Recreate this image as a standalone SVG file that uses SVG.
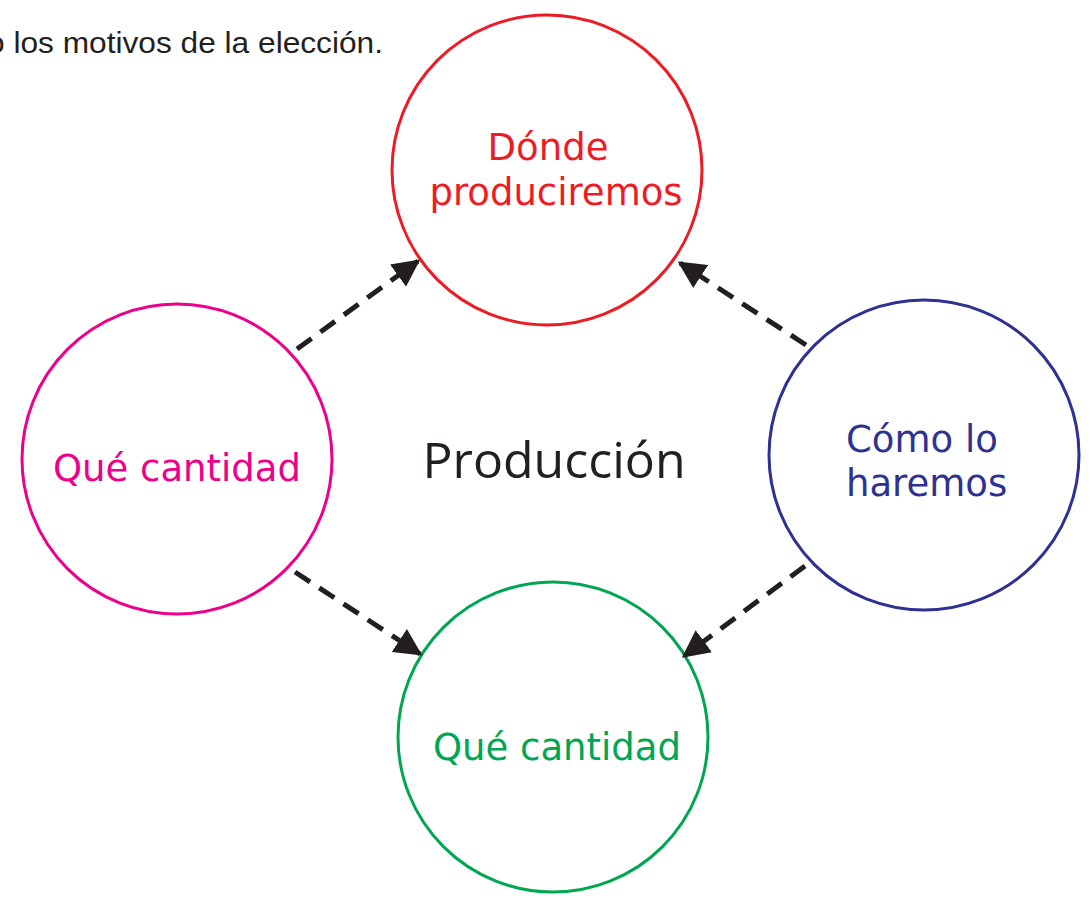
<svg xmlns="http://www.w3.org/2000/svg" width="1090" height="898" viewBox="0 0 1090 898">
<defs>
<marker id="ah" viewBox="0 0 10 10" refX="9" refY="5" markerWidth="5.5" markerHeight="5.5" orient="auto" markerUnits="strokeWidth">
<path d="M0,0 L10,5 L0,10 z" fill="#231f20"/>
</marker>
</defs>
<style>
.c{fill:none;stroke-width:3}
.lbl{font-family:"DejaVu Sans",Verdana,sans-serif;font-size:37px}
.con{stroke:#231f20;stroke-width:5;stroke-dasharray:18 11;fill:none}
</style>
<rect width="1090" height="898" fill="#fff"/>
<text x="-13" y="53" font-family="Liberation Sans, Arial, sans-serif" font-size="30" textLength="396" lengthAdjust="spacingAndGlyphs" fill="#231f20">o los motivos de la elección.</text>
<g id="center"><text x="554" y="478" text-anchor="middle" font-family="Open Sans, sans-serif" font-size="50" fill="#231f20">Producción</text></g>
<g id="donde">
<circle class="c" cx="547" cy="170" r="155" stroke="#ed1c24"/>
<text class="lbl" x="548" y="160" text-anchor="middle" fill="#ed1c24">Dónde</text>
<text class="lbl" x="556" y="205" text-anchor="middle" fill="#ed1c24">produciremos</text>
</g>
<g id="como">
<circle class="c" cx="924" cy="455" r="155" stroke="#2e3192"/>
<text class="lbl" x="846" y="452" fill="#2e3192">Cómo lo</text>
<text class="lbl" x="846" y="496" fill="#2e3192">haremos</text>
</g>
<g id="cantidad1">
<circle class="c" cx="177" cy="459" r="155" stroke="#ec008c"/>
<text class="lbl" x="177" y="481" text-anchor="middle" fill="#ec008c">Qué cantidad</text>
</g>
<g id="cantidad2">
<circle class="c" cx="553" cy="737" r="155" stroke="#00a651"/>
<text class="lbl" x="557" y="760" text-anchor="middle" fill="#00a651">Qué cantidad</text>
</g>
<g id="connectors">
<line class="con" x1="297" y1="349" x2="418" y2="261" marker-end="url(#ah)"/>
<line class="con" x1="806" y1="345" x2="680" y2="263" marker-end="url(#ah)"/>
<line class="con" x1="295" y1="572" x2="420" y2="654" marker-end="url(#ah)"/>
<line class="con" x1="805" y1="566" x2="684" y2="656" marker-end="url(#ah)"/>
</g>
</svg>
